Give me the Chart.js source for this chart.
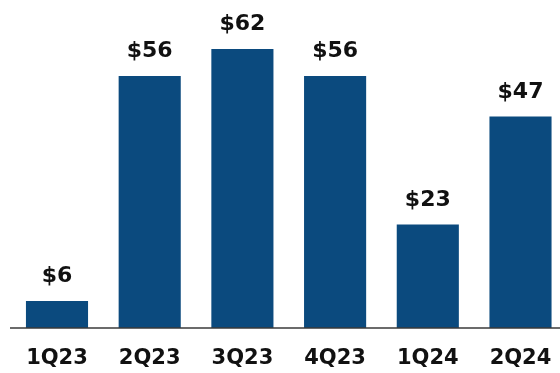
<!DOCTYPE html>
<html>
<head>
<meta charset="utf-8">
<script src="https://cdn.jsdelivr.net/npm/chart.js@4/dist/chart.umd.min.js"></script>
<style>
  html, body { margin: 0; padding: 0; background: #ffffff; }
  #wrap { width: 560px; height: 373px; position: relative; }
</style>
</head>
<body>
<div id="wrap"><canvas id="c"></canvas></div>
<script>
// Quarterly values, in dollars
const quarters = ['1Q23', '2Q23', '3Q23', '4Q23', '1Q24', '2Q24'];
const values = [6, 56, 62, 56, 23, 47];
const valuePrefix = '$';

const BAR_COLOR = '#0b4a7e';
const TEXT_COLOR = '#111111';
const FONT_FAMILY = '"DejaVu Sans", "Liberation Sans", Arial, sans-serif';

// Writes "$value" above every bar
const valueLabels = {
  id: 'valueLabels',
  afterDatasetsDraw(chart) {
    const ctx = chart.ctx;
    const meta = chart.getDatasetMeta(0);
    ctx.save();
    ctx.font = 'bold 22px ' + FONT_FAMILY;
    ctx.fillStyle = TEXT_COLOR;
    ctx.textAlign = 'center';
    ctx.textBaseline = 'alphabetic';
    meta.data.forEach((bar, i) => {
      ctx.fillText(valuePrefix + values[i], bar.x, bar.y - 19);
    });
    ctx.restore();
  }
};

// Baseline running across the full width at zero
const baseLine = {
  id: 'baseLine',
  afterDatasetsDraw(chart) {
    const ctx = chart.ctx;
    const y = chart.scales.y.getPixelForValue(0);
    ctx.save();
    ctx.strokeStyle = '#3a3a3a';
    ctx.lineWidth = 1.5;
    ctx.beginPath();
    ctx.moveTo(10, y);
    ctx.lineTo(chart.width, y);
    ctx.stroke();
    ctx.restore();
  }
};

new Chart(document.getElementById('c'), {
  type: 'bar',
  data: {
    labels: quarters,
    datasets: [{
      data: values,
      backgroundColor: BAR_COLOR,
      borderWidth: 0,
      barPercentage: 0.67,
      categoryPercentage: 1,
      clip: false
    }]
  },
  options: {
    responsive: true,
    maintainAspectRatio: false,
    animation: false,
    events: [],
    layout: { padding: { left: 57, right: 39.5, top: 13, bottom: 2 } },
    plugins: {
      legend: { display: false },
      tooltip: { enabled: false }
    },
    scales: {
      x: {
        offset: false,
        grid: { display: false, drawTicks: false },
        border: { display: false },
        afterFit(scale) {
          scale.height = 43;
          scale.paddingLeft = 0;
          scale.paddingRight = 0;
        },
        ticks: {
          padding: 18,
          color: TEXT_COLOR,
          font: { family: FONT_FAMILY, size: 21, weight: 'bold' },
          maxRotation: 0,
          autoSkip: false
        }
      },
      y: {
        display: false,
        min: 0,
        max: 70
      }
    }
  },
  plugins: [valueLabels, baseLine]
});
</script>
</body>
</html>
